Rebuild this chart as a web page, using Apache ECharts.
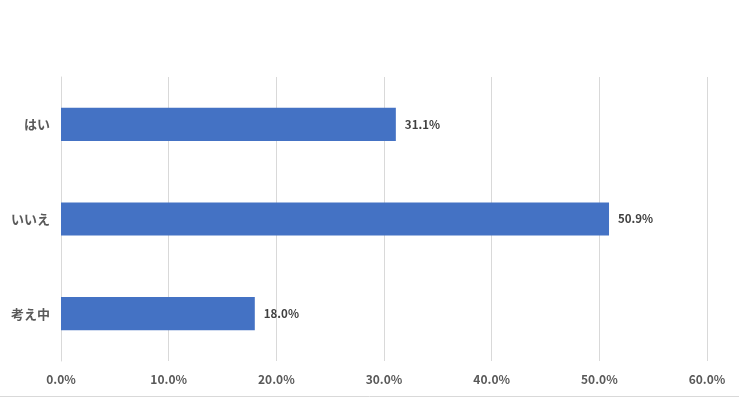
<!DOCTYPE html>
<html>
<head>
<meta charset="utf-8">
<script src="https://cdn.jsdelivr.net/npm/echarts@6/dist/echarts.min.js"></script>
<style>
  html, body { margin: 0; padding: 0; background: #fff; }
  #chart { width: 739px; height: 398px; }
</style>
</head>
<body>
<div id="chart"></div>
<script>
// カテゴリと値 (%)
const categories = ['はい', 'いいえ', '考え中']
const values = [31.1, 50.9, 18.0]
const axisMax = 60
const axisStep = 10

const font = '"Noto Sans CJK JP", "Noto Sans", sans-serif'

const myChart = echarts.init(document.getElementById('chart'))

const option = {
  animation: false,
  grid: {
    left: 61,
    right: 32,
    top: 77,
    bottom: 37,
    containLabel: false
  },
  xAxis: {
    type: 'value',
    min: 0,
    max: axisMax,
    interval: axisStep,
    axisLine: { show: false },
    axisTick: { show: false },
    splitLine: { lineStyle: { color: '#d9d9d9', width: 1 } },
    axisLabel: {
      margin: 12,
      color: '#595959',
      fontFamily: font,
      fontWeight: 'bold',
      fontSize: 12,
      formatter: v => v.toFixed(1) + '%'
    }
  },
  yAxis: {
    type: 'category',
    inverse: true,
    data: categories,
    axisLine: { show: true, lineStyle: { color: '#d9d9d9' } },
    axisTick: { show: false },
    axisLabel: {
      margin: 11,
      color: '#595959',
      fontFamily: font,
      fontWeight: 'bold',
      fontSize: 13
    }
  },
  series: [
    {
      type: 'bar',
      data: values,
      barWidth: '35%',
      itemStyle: { color: '#4472c4' },
      label: {
        show: true,
        position: 'right',
        distance: 9,
        color: '#404040',
        fontFamily: font,
        fontWeight: 'bold',
        fontSize: 11.5,
        formatter: p => p.value.toFixed(1) + '%'
      }
    }
  ],
  graphic: [
    {
      type: 'line',
      shape: { x1: 0, y1: 396.5, x2: 739, y2: 396.5 },
      style: { stroke: '#d9d9d9', lineWidth: 1 }
    }
  ]
}

myChart.setOption(option)
window.onresize = () => {
  myChart.resize()
}
</script>
</body>
</html>
